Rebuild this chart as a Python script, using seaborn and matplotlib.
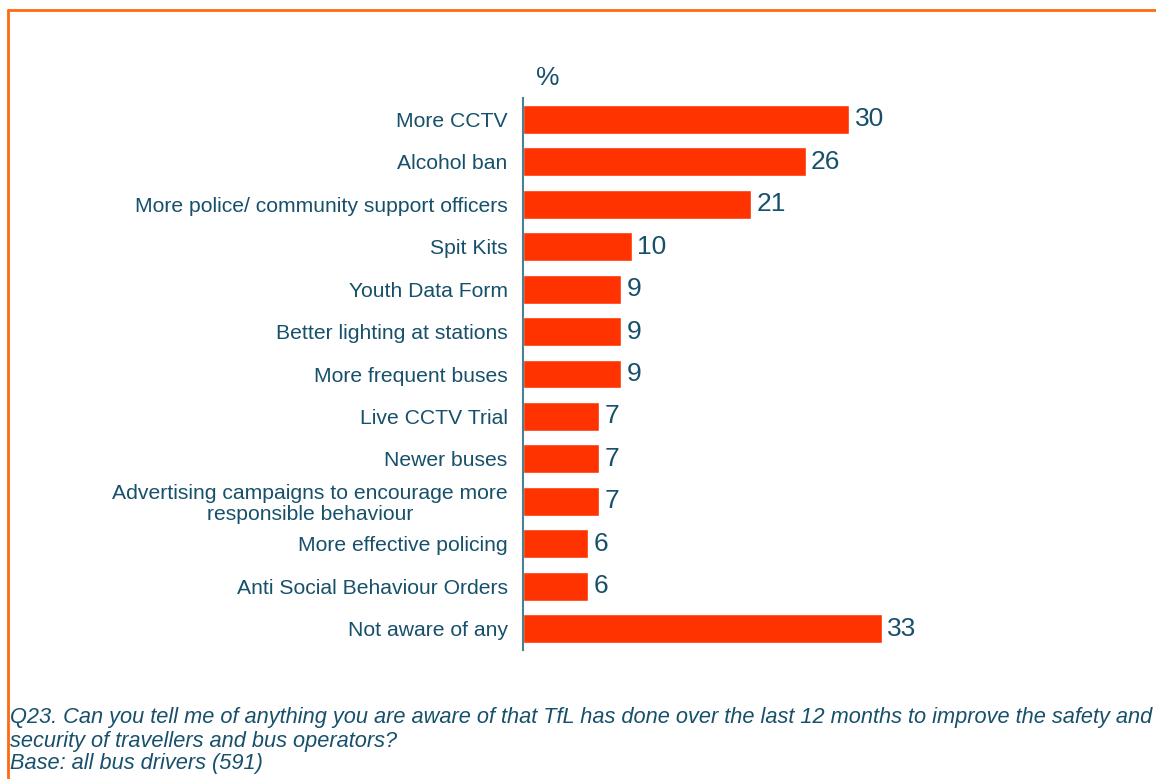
import matplotlib
matplotlib.use("Agg")
import matplotlib.pyplot as plt
from matplotlib.lines import Line2D
import seaborn as sns
import pandas as pd

categories = [
    "More CCTV",
    "Alcohol ban",
    "More police/ community support officers",
    "Spit Kits",
    "Youth Data Form",
    "Better lighting at stations",
    "More frequent buses",
    "Live CCTV Trial",
    "Newer buses",
    "Advertising campaigns to encourage more\nresponsible behaviour",
    "More effective policing",
    "Anti Social Behaviour Orders",
    "Not aware of any",
]
values = [30, 26, 21, 10, 9, 9, 9, 7, 7, 7, 6, 6, 33]

footnote = [
    "Q23. Can you tell me of anything you are aware of that TfL has done over the last 12 months to improve the safety and",
    "security of travellers and bus operators?",
    "Base: all bus drivers (591)",
]

sns.set_theme(style="white")
plt.rcParams["font.family"] = ["Liberation Sans", "DejaVu Sans"]

TEXT = "#17506B"
BAR = "#FF3300"
FRAME = "#FF6A10"
AXIS = "#4F7D92"

W, H = 1156, 779
fig = plt.figure(figsize=(W / 100, H / 100), dpi=100)
fig.patch.set_facecolor("white")

ax_left, ax_right = 523, 1140
ax_top, ax_bottom = 98, 650
ax = fig.add_axes([ax_left / W, 1 - ax_bottom / H,
                   (ax_right - ax_left) / W, (ax_bottom - ax_top) / H])

df = pd.DataFrame({"label": categories, "value": values})
sns.barplot(data=df, x="value", y="label", orient="h", color=BAR,
            width=0.68, saturation=1, ax=ax)

px_per_unit = 326 / 30
ax.set_xlim(0, (ax_right - ax_left) / px_per_unit)
ax.set_ylim(len(categories) - 0.5, -0.5)

for c in ax.containers:
    ax.bar_label(c, labels=[f"{v:g}" for v in values], padding=4,
                 fontsize=19, color=TEXT)

ax.set_xlabel("")
ax.set_ylabel("")
ax.set_xticks([])
ax.tick_params(axis="y", length=0, pad=11)
for lab in ax.get_yticklabels():
    lab.set_fontsize(15.2)
    lab.set_color(TEXT)
    lab.set_multialignment("center")
    lab.set_linespacing(1.1)

for side in ["top", "right", "bottom"]:
    ax.spines[side].set_visible(False)
ax.spines["left"].set_color(AXIS)
ax.spines["left"].set_linewidth(1.5)

fig.text(548 / W, 1 - 78 / H, "%", ha="center", va="center",
         fontsize=19, color=TEXT)

# footnote below the chart
for i, line in enumerate(footnote):
    fig.text(10 / W, 1 - (718 + 23 * i) / H, line, ha="left", va="center",
             fontsize=15.7, style="italic", color=TEXT)

# orange frame on the top and left edges
fig.add_artist(Line2D([8 / W, 1], [1 - 10 / H, 1 - 10 / H],
                      transform=fig.transFigure, color=FRAME, lw=2))
fig.add_artist(Line2D([8 / W, 8 / W], [0, 1 - 10 / H],
                      transform=fig.transFigure, color=FRAME, lw=2))

fig.savefig("out.png", dpi=100, facecolor="white")
